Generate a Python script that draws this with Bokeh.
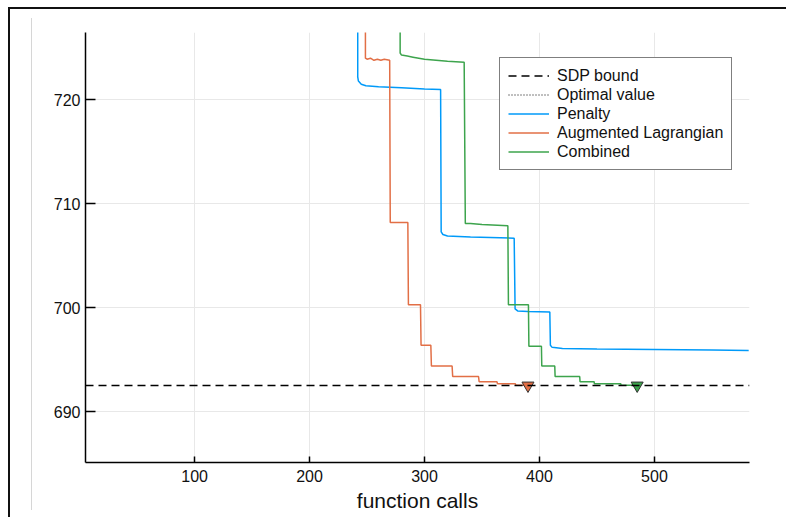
from bokeh.plotting import figure
from bokeh.models import Range1d, FixedTicker, Legend, LegendItem, Span
from bokeh.embed import file_html
from bokeh.resources import INLINE

# ---------------- data ----------------
x_ticks = [100, 200, 300, 400, 500]
y_ticks = [690, 700, 710, 720]

sdp_bound = 692.53

penalty_x = [241.9, 241.9, 242.5, 245, 249, 260, 280, 300, 314, 314.5, 316, 320, 340, 378,
             378.8, 381, 390, 409, 409.5, 411, 420, 450, 500, 550, 582]
penalty_y = [740, 722.2, 721.8, 721.5, 721.35, 721.25, 721.15, 721.05, 721.0, 707.3, 707.05, 706.9, 706.8, 706.7,
             699.9, 699.7, 699.65, 699.6, 696.4, 696.2, 696.1, 696.05, 696.0, 695.95, 695.9]

auglag_x = [248.6, 248.6, 250, 253, 256, 259, 262, 265, 269.7, 270.2, 285.5, 286, 296.5, 297,
            305.5, 306, 324, 324.5, 347, 347.5, 363, 363.5, 379, 379.5, 390]
auglag_y = [740, 724.0, 723.9, 724.0, 723.8, 723.9, 723.8, 723.9, 723.8, 708.2, 708.2, 700.3, 700.3, 696.4,
            696.4, 694.4, 694.4, 693.4, 693.4, 692.9, 692.9, 692.7, 692.7, 692.55, 692.55]

combined_x = [278.8, 278.8, 280, 285, 290, 300, 310, 320, 334.5, 335.5, 340, 350, 372.5, 373,
              390.4, 390.8, 401.7, 402, 413.3, 413.6, 435, 435.3, 447.5, 447.8, 470.7, 471, 485]
combined_y = [740, 724.5, 724.3, 724.2, 724.1, 723.9, 723.8, 723.7, 723.6, 708.1, 708.1, 708.0, 707.9, 700.3,
              700.3, 696.3, 696.3, 694.4, 694.4, 693.4, 693.4, 692.9, 692.9, 692.7, 692.7, 692.55, 692.55]

final_x = [390, 485]
final_y = [sdp_bound, sdp_bound]

BLUE = "#009af9"
ORANGE = "#e26f46"
GREEN = "#3da44d"
FONT = "Liberation Sans"
NAN = float("nan")

# ---------------- figure ----------------
p = figure(width=786, height=517, output_backend="svg", toolbar_location=None,
           x_range=Range1d(5.1, 582.7), y_range=Range1d(685.13, 726.47),
           min_border_left=85, min_border_top=32, min_border_right=37, min_border_bottom=55)

p.outline_line_color = None
p.border_fill_color = None
p.background_fill_color = "white"
p.styles = {
    "background": ("linear-gradient(#111,#111) 8px 8px / 2px 100% no-repeat, "
                   "linear-gradient(#111,#111) 8px 7px / 100% 2px no-repeat, "
                   "linear-gradient(#d6d6d6,#d6d6d6) 31px 18px / 1px 492px no-repeat, white")
}

for ax in (p.xaxis[0], p.yaxis[0]):
    ax.axis_line_color = "black"
    ax.axis_line_width = 1.5
    ax.major_tick_line_color = "black"
    ax.major_tick_line_width = 1.5
    ax.major_tick_out = 0
    ax.minor_tick_line_color = None
    ax.major_label_text_font = FONT
    ax.major_label_text_font_size = "16px"
    ax.major_label_text_color = "#111"

p.xaxis.ticker = FixedTicker(ticks=x_ticks)
p.yaxis.ticker = FixedTicker(ticks=y_ticks)
p.xaxis.major_tick_in = 6
p.yaxis.major_tick_in = 10
p.xaxis.major_label_standoff = 7
p.yaxis.major_label_standoff = 5
p.xaxis.axis_label = "function calls"
p.xaxis.axis_label_text_font = FONT
p.xaxis.axis_label_text_font_size = "21px"
p.xaxis.axis_label_text_font_style = "normal"
p.xaxis.axis_label_text_color = "#111"
p.xaxis.axis_label_standoff = 4

p.xgrid.ticker = FixedTicker(ticks=x_ticks)
p.ygrid.ticker = FixedTicker(ticks=y_ticks)
for g in (p.xgrid[0], p.ygrid[0]):
    g.grid_line_color = "#e8e8e8"
    g.grid_line_width = 1

# SDP bound
p.add_layout(Span(location=sdp_bound, dimension="width", line_color="black",
                  line_width=1.5, line_dash="8 5"))
r_sdp = p.line(x=[NAN], y=[NAN], line_color="black", line_width=1.5, line_dash="8 5")
r_opt = p.line(x=[NAN], y=[NAN], line_color="black", line_width=1, line_dash="1 2")

r_pen = p.line(penalty_x, penalty_y, line_color=BLUE, line_width=1.5)
r_al = p.line(auglag_x, auglag_y, line_color=ORANGE, line_width=1.5)
r_comb = p.line(combined_x, combined_y, line_color=GREEN, line_width=1.5)

p.scatter(final_x, final_y, marker="inverted_triangle", size=12,
          fill_color=[ORANGE, GREEN], line_color="#333", line_width=1)

legend = Legend(items=[
    LegendItem(label="SDP bound", renderers=[r_sdp]),
    LegendItem(label="Optimal value", renderers=[r_opt]),
    LegendItem(label="Penalty", renderers=[r_pen]),
    LegendItem(label="Augmented Lagrangian", renderers=[r_al]),
    LegendItem(label="Combined", renderers=[r_comb]),
], location=(414, 292))
legend.border_line_color = "black"
legend.border_line_width = 1
legend.background_fill_color = "white"
legend.background_fill_alpha = 1
legend.label_text_font = FONT
legend.label_text_font_size = "16px"
legend.label_text_color = "#111"
legend.glyph_width = 41
legend.glyph_height = 19
legend.label_height = 19
legend.label_standoff = 8
legend.padding = 8
legend.spacing = 0
legend.margin = 0
p.add_layout(legend)

open("out.html", "w").write(file_html(p, INLINE))
